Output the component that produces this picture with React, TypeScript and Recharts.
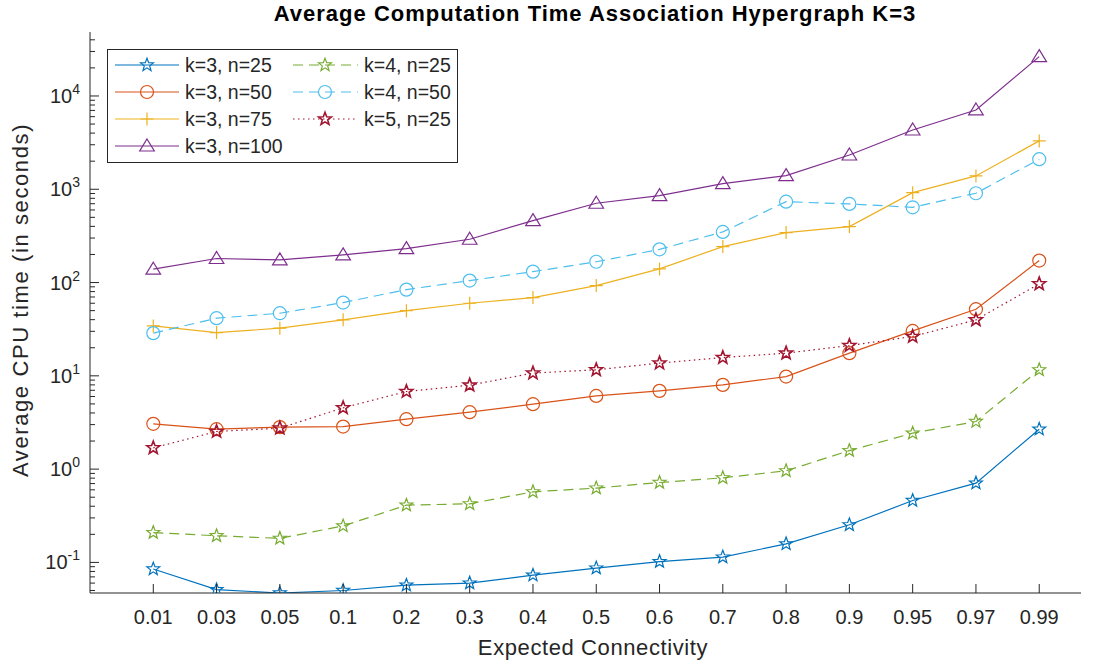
import React from 'react';
import { LineChart, Line, XAxis, YAxis, Legend } from 'recharts';

// expected connectivity (categorical x positions 1..15)
const connectivity = ['0.01', '0.03', '0.05', '0.1', '0.2', '0.3', '0.4', '0.5', '0.6', '0.7', '0.8', '0.9', '0.95', '0.97', '0.99'];

// average CPU time in seconds
const k3n25 = [0.085, 0.051, 0.047, 0.050, 0.057, 0.060, 0.073, 0.087, 0.102, 0.114, 0.158, 0.253, 0.461, 0.708, 2.68];
const k3n50 = [3.06, 2.68, 2.82, 2.86, 3.43, 4.08, 4.97, 6.09, 6.9, 8.0, 9.82, 17.5, 30.3, 51.8, 172];
const k3n75 = [34.3, 29.1, 32.4, 39.8, 50.0, 60.0, 69.0, 92.7, 140, 243, 343, 398, 920, 1390, 3300];
const k3n100 = [139, 181, 175, 198, 231, 291, 461, 708, 854, 1148, 1400, 2330, 4320, 7080, 26400];
const k4n25 = [0.209, 0.193, 0.181, 0.246, 0.411, 0.425, 0.571, 0.626, 0.719, 0.807, 0.959, 1.58, 2.43, 3.24, 11.6];
const k4n50 = [28.7, 41.5, 46.9, 61.0, 84.0, 105, 131, 167, 227, 349, 736, 696, 641, 906, 2100];
const k5n25 = [1.69, 2.53, 2.75, 4.54, 6.79, 7.94, 10.7, 11.6, 13.7, 15.7, 17.5, 21.1, 26.4, 39.8, 96.8];

const decades = [-2, -1, 0, 1, 2, 3, 4];
const Y_MIN = 0.047;
const Y_MAX = 48500;
const X_MAX = 15.66;

const AXIS = '#262626';
const FONT = '"Liberation Sans", Arial, Helvetica, sans-serif';

type Kind = 'star' | 'circle' | 'plus' | 'triangle';

const series: { key: string; name: string; color: string; dash?: string; marker: Kind; mw?: number }[] = [
  { key: 'k3n25', name: 'k=3, n=25', color: '#0072BD', marker: 'star' },
  { key: 'k3n50', name: 'k=3, n=50', color: '#D95319', marker: 'circle' },
  { key: 'k3n75', name: 'k=3, n=75', color: '#EDB120', marker: 'plus' },
  { key: 'k3n100', name: 'k=3, n=100', color: '#7E2F8E', marker: 'triangle' },
  { key: 'k4n25', name: 'k=4, n=25', color: '#77AC30', dash: '10 6', marker: 'star' },
  { key: 'k4n50', name: 'k=4, n=50', color: '#4DBEEE', dash: '10 6', marker: 'circle' },
  { key: 'k5n25', name: 'k=5, n=25', color: '#A2142F', dash: '1.5 3.5', marker: 'star', mw: 1.6 },
];

const data = connectivity.map((c, i) => ({
  x: i + 1,
  label: c,
  k3n25: k3n25[i],
  k3n50: k3n50[i],
  k3n75: k3n75[i],
  k3n100: k3n100[i],
  k4n25: k4n25[i],
  k4n50: k4n50[i],
  k5n25: k5n25[i],
}));

const xTicks = connectivity.map((_, i) => i + 1);

// major + minor ticks of the log axis
const yTicks: number[] = [];
decades.forEach((d) => {
  for (let m = 1; m <= 9; m++) {
    const v = m * Math.pow(10, d);
    if (v >= Y_MIN && v <= Y_MAX) yTicks.push(v);
  }
});
const isMajor = (v: number) => decades.some((d) => Math.abs(v - Math.pow(10, d)) < 1e-9 * Math.pow(10, d));

const starPoints = (cx: number, cy: number, r: number) => {
  const pts: string[] = [];
  for (let i = 0; i < 10; i++) {
    const rad = i % 2 === 0 ? r : r * 0.42;
    const a = -Math.PI / 2 + (i * Math.PI) / 5;
    pts.push(`${cx + rad * Math.cos(a)},${cy + rad * Math.sin(a)}`);
  }
  return pts.join(' ');
};

const Marker = ({ kind, cx, cy, color, sw = 1.2 }: { kind: Kind; cx: number; cy: number; color: string; sw?: number }) => {
  if (kind === 'star') return <polygon points={starPoints(cx, cy, 6.8)} fill="none" stroke={color} strokeWidth={sw} />;
  if (kind === 'circle') return <circle cx={cx} cy={cy} r={6.5} fill="none" stroke={color} strokeWidth={sw} />;
  if (kind === 'plus')
    return <path d={`M${cx - 6.5},${cy}H${cx + 6.5}M${cx},${cy - 6.5}V${cy + 6.5}`} fill="none" stroke={color} strokeWidth={sw} />;
  return (
    <polygon points={`${cx},${cy - 7} ${cx + 7.3},${cy + 5} ${cx - 7.3},${cy + 5}`} fill="none" stroke={color} strokeWidth={sw} />
  );
};

const BottomTick = (props: any) => {
  const { x, y, payload } = props;
  return (
    <g>
      <line x1={x} y1={y} x2={x} y2={y - 9} stroke={AXIS} />
      <text x={x} y={y + 31} textAnchor="middle" fontSize={20} fill={AXIS} fontFamily={FONT}>
        {connectivity[payload.value - 1]}
      </text>
    </g>
  );
};

const TopTick = (props: any) => {
  const { x, y } = props;
  return <line x1={x} y1={y} x2={x} y2={y + 9} stroke={AXIS} />;
};

const LeftTick = (props: any) => {
  const { x, y, payload } = props;
  const major = isMajor(payload.value);
  const exp = Math.round(Math.log10(payload.value));
  return (
    <g>
      <line x1={x} y1={y} x2={x + (major ? 9 : 5)} y2={y} stroke={AXIS} />
      {major && (
        <text x={x - 10} y={y + 7} textAnchor="end" fontSize={20} fill={AXIS} fontFamily={FONT}>
          10<tspan dy={-9} fontSize={14}>{exp}</tspan>
        </text>
      )}
    </g>
  );
};

const RightTick = (props: any) => {
  const { x, y, payload } = props;
  const major = isMajor(payload.value);
  return <line x1={x} y1={y} x2={x - (major ? 9 : 5)} y2={y} stroke={AXIS} />;
};

const LegendBox = () => {
  const rows = [16, 43, 70, 97];
  const cols = [
    { lx1: 8, lx2: 72, mx: 40, tx: 78 },
    { lx1: 186, lx2: 251, mx: 218, tx: 257 },
  ];
  return (
    <svg width={352} height={115} style={{ display: 'block', fontFamily: FONT }}>
      <rect x={0.5} y={0.5} width={350} height={113} fill="#fff" stroke={AXIS} strokeWidth={1} />
      {series.map((s, i) => {
        const col = cols[i < 4 ? 0 : 1];
        const ry = rows[i < 4 ? i : i - 4];
        return (
          <g key={s.key}>
            <line x1={col.lx1} y1={ry} x2={col.lx2} y2={ry} stroke={s.color} strokeWidth={1.2} strokeDasharray={s.dash} />
            <Marker kind={s.marker} cx={col.mx} cy={ry} color={s.color} sw={s.mw} />
            <text x={col.tx} y={ry + 7} fontSize={19.5} fill={AXIS}>
              {s.name}
            </text>
          </g>
        );
      })}
    </svg>
  );
};

export default function App() {
  return (
    <div style={{ position: 'absolute', left: 0, top: 0, width: 1100, height: 666, background: '#fff' }}>
      <LineChart width={1100} height={666} data={data} margin={{ top: 32, right: 19, bottom: 13, left: 10 }}>
        <text x={595} y={21} textAnchor="middle" fontSize={22} fontWeight="bold" fill="#000" fontFamily={FONT} letterSpacing={1}>
          Average Computation Time Association Hypergraph K=3
        </text>
        <text x={593} y={655} textAnchor="middle" fontSize={22} fill={AXIS} fontFamily={FONT} letterSpacing={0.6}>
          Expected Connectivity
        </text>
        <text
          x={28}
          y={300}
          textAnchor="middle"
          fontSize={22}
          fill={AXIS}
          fontFamily={FONT}
          letterSpacing={1.6}
          transform="rotate(-90 28 300)"
        >
          Average CPU time (in seconds)
        </text>
        <XAxis
          dataKey="x"
          type="number"
          domain={[0, X_MAX]}
          ticks={xTicks}
          interval={0}
          allowDataOverflow
          height={60}
          tickSize={0}
          tickMargin={0}
          tickLine={false}
          stroke={AXIS}
          tick={<BottomTick />}
        />
        <XAxis
          xAxisId="top"
          orientation="top"
          dataKey="x"
          type="number"
          domain={[0, X_MAX]}
          ticks={xTicks}
          interval={0}
          allowDataOverflow
          height={0}
          tickSize={0}
          tickMargin={0}
          tickLine={false}
          stroke={AXIS}
          tick={<TopTick />}
        />
        <YAxis
          type="number"
          scale="log"
          domain={[Y_MIN, Y_MAX]}
          ticks={yTicks}
          interval={0}
          allowDataOverflow
          width={80}
          tickSize={0}
          tickMargin={0}
          tickLine={false}
          stroke={AXIS}
          tick={<LeftTick />}
        />
        <YAxis
          yAxisId="right"
          orientation="right"
          type="number"
          scale="log"
          domain={[Y_MIN, Y_MAX]}
          ticks={yTicks}
          interval={0}
          allowDataOverflow
          width={0}
          tickSize={0}
          tickMargin={0}
          tickLine={false}
          stroke={AXIS}
          tick={<RightTick />}
        />
        {/* invisible series so the top/right frame axes get drawn */}
        <Line
          xAxisId="top"
          yAxisId="right"
          dataKey="k3n100"
          stroke="none"
          dot={false}
          activeDot={false}
          legendType="none"
          isAnimationActive={false}
        />
        {series.map((s) => (
          <Line
            key={s.key}
            dataKey={s.key}
            name={s.name}
            type="linear"
            stroke={s.color}
            strokeWidth={1.2}
            strokeDasharray={s.dash}
            isAnimationActive={false}
            activeDot={false}
            dot={(p: any) => <Marker key={`${s.key}-${p.index}`} kind={s.marker} cx={p.cx} cy={p.cy} color={s.color} sw={s.mw} />}
          />
        ))}
        <Legend
          layout="vertical"
          align="center"
          verticalAlign="middle"
          wrapperStyle={{ left: 107, top: 49, width: 352, height: 115 }}
          content={() => <LegendBox />}
        />
      </LineChart>
    </div>
  );
}
